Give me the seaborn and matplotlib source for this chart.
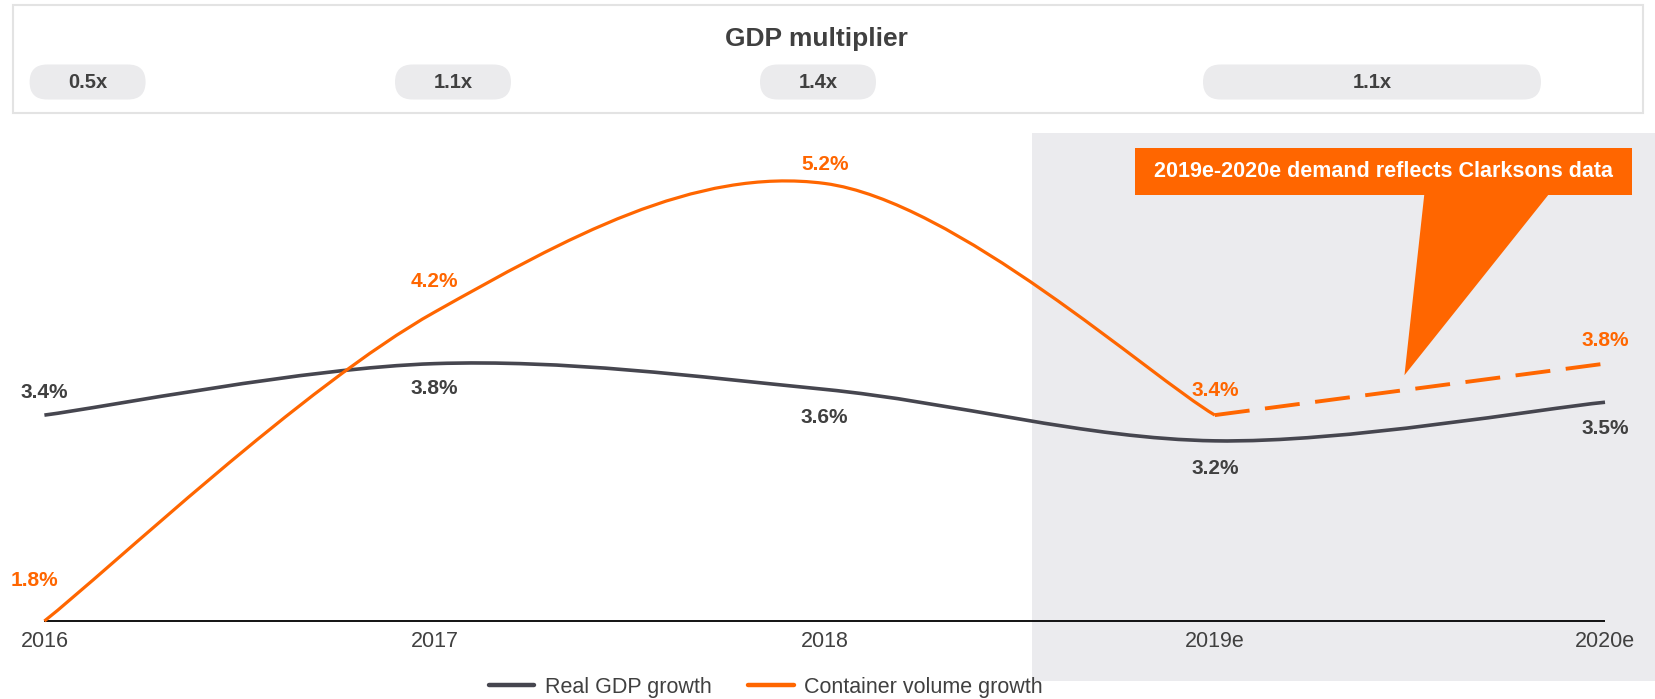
import numpy as np
import pandas as pd
import matplotlib.pyplot as plt
import seaborn as sns
from matplotlib.path import Path
from matplotlib.patches import PathPatch, Rectangle, FancyBboxPatch, Polygon
from matplotlib.lines import Line2D

# Data
years = ['2016', '2017', '2018', '2019e', '2020e']
gdp_growth = [3.4, 3.8, 3.6, 3.2, 3.5]
container_growth = [1.8, 4.2, 5.2, 3.4]        # 2016-2019e, solid
forecast_years = ['2019e', '2020e']
container_forecast = [3.4, 3.8]                # Clarksons based, dashed
multiplier_labels = ['0.5x', '1.1x', '1.4x', '1.1x']

ORANGE = '#FF6600'
GRAY = '#46464F'
TEXT = '#404040'
SHADE = '#EBEBEE'

sns.set_theme(style='white')
plt.rcParams['font.family'] = ['Liberation Sans', 'DejaVu Sans']

df = pd.DataFrame({'year': years, 'pos': np.arange(len(years)), 'gdp': gdp_growth})
fc = pd.DataFrame({'year': forecast_years,
                   'pos': [years.index(y) for y in forecast_years],
                   'vol': container_forecast})


def smooth_path(xs, ys):
    # excel-like smoothed line (bezier through the points)
    pts = np.column_stack([xs, ys]).astype(float)
    ext = np.vstack([pts[0], pts, pts[-1]])
    verts, codes = [pts[0]], [Path.MOVETO]
    for i in range(len(pts) - 1):
        p0, p1, p2, p3 = ext[i], ext[i + 1], ext[i + 2], ext[i + 3]
        verts += [p1 + (p2 - p0) / 6, p2 - (p3 - p1) / 6, p2]
        codes += [Path.CURVE4] * 3
    return Path(verts, codes)


W, H = 1656, 699
fig = plt.figure(figsize=(W / 100, H / 100), dpi=100)
fig.patch.set_facecolor('white')

# background overlay in pixel units for the multiplier header
ov = fig.add_axes([0, 0, 1, 1])
ov.set_xlim(0, W)
ov.set_ylim(0, H)
ov.axis('off')
ov.add_patch(Rectangle((13, H - 113), 1630, 108, fill=False, edgecolor='#E3E3E3', lw=1.5))
ov.text(816, H - 39, 'GDP multiplier', ha='center', va='center', fontsize=19,
        fontweight='bold', color=TEXT)
pill_x = [87.6, 453, 818, 1372]
pill_w = [116, 116, 116, 338]
pill_h = 35
for lab, cx, w in zip(multiplier_labels, pill_x, pill_w):
    ov.add_patch(FancyBboxPatch((cx - w / 2, H - 82 - pill_h / 2), w, pill_h,
                                boxstyle=f'round,pad=0,rounding_size={pill_h / 2}',
                                facecolor='#EBEBED', edgecolor='none'))
    ov.text(cx, H - 82, lab, ha='center', va='center', fontsize=14.5,
            fontweight='bold', color=TEXT)

# main chart axes
ax = fig.add_axes([0, 18 / H, 1, 548 / H])
ax.set_xlim(-0.1138, 4.1307)
ax.set_ylim(1.334, 5.592)
ax.axis('off')

ax.axvspan(2.531, 4.1307, color=SHADE, lw=0, zorder=0)
base = min(container_growth)
ax.hlines(base, 0, len(years) - 1, color='black', lw=1.3, zorder=1)

ax.add_patch(PathPatch(smooth_path(df['pos'], df['gdp']), fill=False,
                       edgecolor=GRAY, lw=2.6, zorder=3))
ax.add_patch(PathPatch(smooth_path(np.arange(len(container_growth)), container_growth),
                       fill=False, edgecolor=ORANGE, lw=2.3, zorder=4))
sns.lineplot(data=fc, x='pos', y='vol', ax=ax, color=ORANGE, lw=2.8,
             linestyle=(0, (9, 4)), zorder=4, legend=False)
ax.axis('off')

for i, y in enumerate(years):
    ax.annotate(y, (i, base), xytext=(0, -14.5), textcoords='offset points',
                ha='center', va='center', fontsize=15.5, color=TEXT)

gdp_off = [(0, 16), (0, -18), (0, -20), (0, -20), (0, -19)]
for i, (v, off) in enumerate(zip(gdp_growth, gdp_off)):
    ax.annotate(f'{v:.1f}%', (i, v), xytext=off, textcoords='offset points',
                ha='center', va='center', fontsize=15, fontweight='bold', color=TEXT)

vol_all = container_growth + container_forecast[1:]
vol_off = [(-7, 29), (0, 22), (0, 14), (0, 18), (0, 17)]
for i, (v, off) in enumerate(zip(vol_all, vol_off)):
    ax.annotate(f'{v:.1f}%', (i, v), xytext=off, textcoords='offset points',
                ha='center', va='center', fontsize=15, fontweight='bold', color=ORANGE)

# callout
ax.add_patch(Rectangle((2.796, 5.114), 1.272, 0.361, facecolor=ORANGE, edgecolor='none', zorder=5))
ax.add_patch(Polygon([(3.537, 5.12), (3.857, 5.12), (3.486, 3.71)], closed=True,
                     facecolor=ORANGE, edgecolor='none', zorder=5))
ax.text(3.432, 5.295, '2019e-2020e demand reflects Clarksons data', ha='center', va='center',
        fontsize=15.5, fontweight='bold', color='white', zorder=6)

handles = [Line2D([], [], color=GRAY, lw=3.2), Line2D([], [], color=ORANGE, lw=3.2)]
fig.legend(handles, ['Real GDP growth', 'Container volume growth'], loc='center',
           bbox_to_anchor=(766 / W, 1 - 687 / H), ncol=2, frameon=False, fontsize=15.5,
           handlelength=2.1, handletextpad=0.5, columnspacing=1.7, labelcolor=TEXT)

fig.savefig('out.png', dpi=100, facecolor='white')
